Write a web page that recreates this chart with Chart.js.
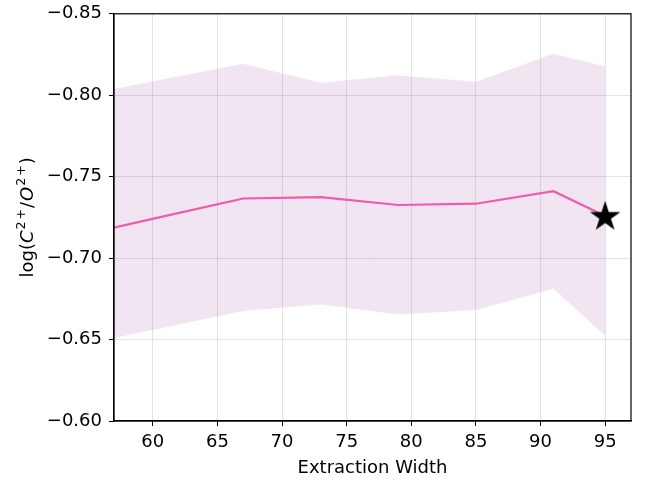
<!DOCTYPE html>
<html>
<head>
<meta charset="utf-8">
<script src="https://cdn.jsdelivr.net/npm/chart.js@4"></script>
<style>
  html, body { margin: 0; padding: 0; background: #fff; overflow: hidden; }
  #ratioChart { display: block; margin-top: -4px; }
</style>
</head>
<body>
<canvas id="ratioChart" width="651" height="485"></canvas>
<script>
// extraction widths and log(C2+/O2+) values
const widths = [55, 61, 67, 73, 79, 85, 91, 95];
const logRatio = [-0.7152, -0.7259, -0.7366, -0.7374, -0.7326, -0.7334, -0.7411, -0.7258];
const upperBand = [-0.8008, -0.8101, -0.8193, -0.8077, -0.8122, -0.8083, -0.8254, -0.8177];
const lowerBand = [-0.6477, -0.6576, -0.6676, -0.6715, -0.6654, -0.6682, -0.6812, -0.6524];
const starWidth = [95];
const starValue = [-0.7263];
const xTicks = [60, 65, 70, 75, 80, 85, 90, 95];
const yTicks = [-0.85, -0.80, -0.75, -0.70, -0.65, -0.60];

const toPoints = (xs, ys) => xs.map((x, i) => ({ x: x, y: ys[i] }));

// filled black star for the fiducial point
function makeStar(r) {
  const c = document.createElement("canvas");
  c.width = c.height = r * 2 + 2;
  const g = c.getContext("2d");
  const inner = r * 0.381;
  g.beginPath();
  for (let i = 0; i < 10; i++) {
    const rad = i % 2 === 0 ? r : inner;
    const a = -Math.PI / 2 + i * Math.PI / 5;
    const px = c.width / 2 + rad * Math.cos(a);
    const py = c.height / 2 + rad * Math.sin(a) + r * 0.1;
    i === 0 ? g.moveTo(px, py) : g.lineTo(px, py);
  }
  g.closePath();
  g.fillStyle = "#000";
  g.fill();
  return c;
}

const framePlugin = {
  id: "frame",
  afterDraw(chart) {
    const { ctx, chartArea: a } = chart;
    ctx.save();
    ctx.strokeStyle = "#000";
    ctx.lineWidth = 1.2;
    ctx.strokeRect(a.left, a.top, a.right - a.left, a.bottom - a.top);

    // y axis title with italic species names
    const big = "18px 'DejaVu Sans'";
    const ital = "italic 18px 'DejaVu Sans'";
    const small = "12.5px 'DejaVu Sans'";
    const parts = [
      ["log(", big, 0, 0],
      ["C", ital, 0, 1],
      ["2", small, -8, 2],
      ["+", small, -8, 1],
      ["/", big, 0, 1],
      ["O", ital, 0, 1],
      ["2", small, -8, 2],
      ["+", small, -8, 1],
      [")", big, 0, 0]
    ];
    let total = 0;
    parts.forEach(p => { ctx.font = p[1]; total += ctx.measureText(p[0]).width + p[3]; });
    ctx.translate(33, (a.top + a.bottom) / 2);
    ctx.rotate(-Math.PI / 2);
    ctx.fillStyle = "#000";
    ctx.textBaseline = "alphabetic";
    let x = -total / 2;
    parts.forEach(p => {
      ctx.font = p[1];
      ctx.fillText(p[0], x, p[2]);
      x += ctx.measureText(p[0]).width + p[3];
    });
    ctx.restore();
  }
};

new Chart(document.getElementById("ratioChart"), {
  type: "line",
  data: {
    datasets: [
      {
        label: "upper",
        data: toPoints(widths, upperBand),
        borderWidth: 0,
        pointRadius: 0,
        backgroundColor: "rgba(128, 0, 128, 0.1)",
        fill: "+1",
        order: 3
      },
      {
        label: "lower",
        data: toPoints(widths, lowerBand),
        borderWidth: 0,
        pointRadius: 0,
        fill: false,
        order: 3
      },
      {
        label: "ratio",
        data: toPoints(widths, logRatio),
        borderColor: "#f05aaa",
        borderWidth: 2.2,
        pointRadius: 0,
        fill: false,
        tension: 0,
        order: 2
      },
      {
        type: "scatter",
        label: "fiducial",
        data: toPoints(starWidth, starValue),
        pointStyle: makeStar(16),
        pointRadius: 16,
        order: 1
      }
    ]
  },
  options: {
    responsive: false,
    animation: false,
    devicePixelRatio: 1,
    layout: { autoPadding: false, padding: { left: 0, right: 20, top: 13, bottom: 0 } },
    plugins: {
      legend: { display: false },
      tooltip: { enabled: false }
    },
    scales: {
      x: {
        type: "linear",
        min: 57,
        max: 97,
        afterBuildTicks: s => { s.ticks = xTicks.map(v => ({ value: v })); },
        afterFit: s => { s.height = 60; },
        ticks: {
          color: "#000",
          font: { family: "DejaVu Sans", size: 18 },
          padding: 6,
          maxRotation: 0
        },
        grid: { color: "rgba(0,0,0,0.11)", tickColor: "#000", tickLength: 5 },
        border: { color: "#000", width: 1.2 },
        title: {
          display: true,
          text: "Extraction Width",
          color: "#000",
          font: { family: "DejaVu Sans", size: 18 },
          padding: { top: 0, bottom: 2 }
        }
      },
      y: {
        type: "linear",
        reverse: true,
        min: -0.85,
        max: -0.60,
        afterBuildTicks: s => { s.ticks = yTicks.map(v => ({ value: v })); },
        afterFit: s => { s.width = 114; },
        ticks: {
          color: "#000",
          font: { family: "DejaVu Sans", size: 18 },
          padding: 7,
          callback: v => v.toFixed(2).replace("-", "\u2212")
        },
        grid: { color: "rgba(0,0,0,0.11)", tickColor: "#000", tickLength: 5 },
        border: { color: "#000", width: 1.2 }
      }
    }
  },
  plugins: [framePlugin]
});
</script>
</body>
</html>
